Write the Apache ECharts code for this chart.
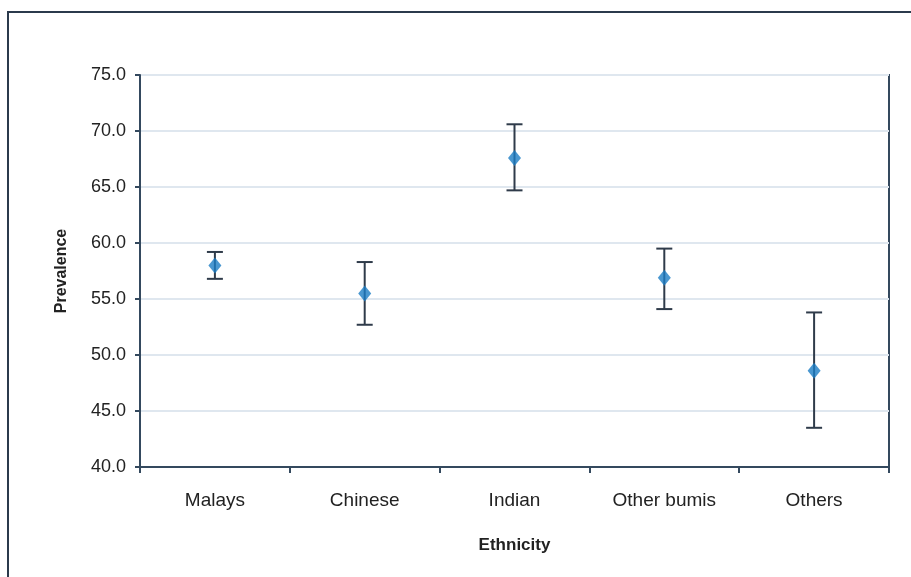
<!DOCTYPE html>
<html><head><meta charset="utf-8">
<script src="https://cdn.jsdelivr.net/npm/echarts@6/dist/echarts.min.js"></script>
<style>html,body{margin:0;padding:0;background:#fff}#c{width:911px;height:577px}</style>
</head><body><div id="c"></div>
<script>
var categories = ['Malays', 'Chinese', 'Indian', 'Other bumis', 'Others'];
var prevalence = [58.0, 55.5, 67.6, 56.9, 48.6];
var lowerCI = [56.8, 52.7, 64.7, 54.1, 43.5];
var upperCI = [59.2, 58.3, 70.6, 59.5, 53.8];

var FONT = '"Liberation Sans", Arial, sans-serif';
var chart = echarts.init(document.getElementById('c'));
var errData = categories.map(function (c, i) { return [i, lowerCI[i], upperCI[i]]; });

chart.setOption({
  backgroundColor: '#ffffff',
  animation: false,
  graphic: [{
    type: 'rect', z: 0, silent: true,
    shape: { x: 8, y: 12, width: 930, height: 600 },
    style: { fill: 'none', stroke: '#2b3a4c', lineWidth: 2 }
  }],
  grid: { left: 140, right: 22, top: 75, bottom: 110, show: true, borderColor: '#34495e', borderWidth: 2, backgroundColor: 'transparent' },
  xAxis: {
    type: 'category', data: categories, boundaryGap: true,
    name: 'Ethnicity', nameLocation: 'middle', nameGap: 70,
    nameTextStyle: { fontFamily: FONT, fontSize: 17, fontWeight: 'bold', color: '#222' },
    axisLine: { lineStyle: { color: '#34495e', width: 2 } },
    axisTick: { show: true, alignWithLabel: false, length: 6, lineStyle: { color: '#34495e', width: 2 } },
    axisLabel: { fontFamily: FONT, fontSize: 19, color: '#222', margin: 24 },
    splitLine: { show: false }
  },
  yAxis: {
    type: 'value', min: 40, max: 75, interval: 5,
    name: 'Prevalence', nameLocation: 'middle', nameGap: 70,
    nameTextStyle: { fontFamily: FONT, fontSize: 16, fontWeight: 'bold', color: '#222' },
    axisLine: { show: true, lineStyle: { color: '#34495e', width: 2 } },
    axisTick: { show: true, length: 5, lineStyle: { color: '#34495e', width: 2 } },
    axisLabel: { fontFamily: FONT, fontSize: 18, color: '#222', margin: 14, formatter: function (v) { return v.toFixed(1); } },
    splitLine: { show: true, lineStyle: { color: '#dfe7ef', width: 2 } }
  },
  series: [{
    type: 'custom', z: 2,
    data: errData,
    renderItem: function (params, api) {
      var x = api.value(0);
      var lo = api.coord([x, api.value(1)]);
      var hi = api.coord([x, api.value(2)]);
      var hw = 8;
      var st = { stroke: '#2f3b4a', lineWidth: 2 };
      return { type: 'group', children: [
        { type: 'line', shape: { x1: hi[0], y1: hi[1], x2: lo[0], y2: lo[1] }, style: st },
        { type: 'line', shape: { x1: hi[0] - hw, y1: hi[1], x2: hi[0] + hw, y2: hi[1] }, style: st },
        { type: 'line', shape: { x1: lo[0] - hw, y1: lo[1], x2: lo[0] + hw, y2: lo[1] }, style: st }
      ]};
    },
    encode: { x: 0, y: [1, 2] }
  }, {
    type: 'scatter', z: 3,
    data: prevalence,
    symbol: 'diamond', symbolSize: [13, 16],
    itemStyle: { color: '#1b7dc4' }
  }]
});
</script></body></html>
